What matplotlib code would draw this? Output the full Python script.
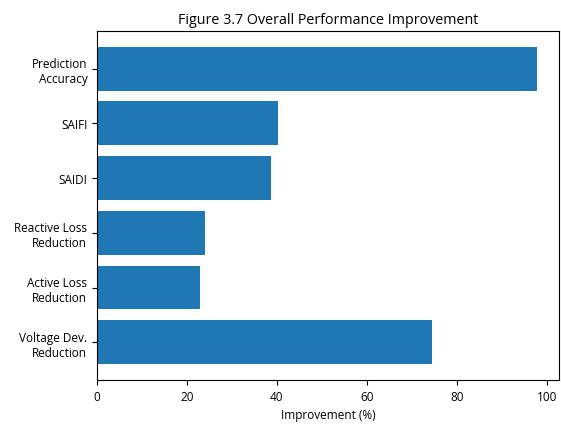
import matplotlib
matplotlib.use("Agg")
import matplotlib.pyplot as plt

plt.rcParams['font.family'] = ['Open Sans', 'DejaVu Sans']

categories = ["Voltage Dev.\nReduction", "Active Loss\nReduction", "Reactive Loss\nReduction",
              "SAIDI", "SAIFI", "Prediction\nAccuracy"]
improvement = [74.6, 23.0, 24.1, 38.7, 40.3, 97.8]
xticks = [0, 20, 40, 60, 80, 100]

fig = plt.figure(figsize=(5.61, 4.31), dpi=100)
ax = fig.add_axes([0.173, 0.116, 0.823, 0.81])
ax.barh(categories, improvement, color="#1f77b4", height=0.8)
ax.set_xticks(xticks)
ax.set_xlabel("Improvement (%)", fontsize=8.5)
ax.set_title("Figure 3.7 Overall Performance Improvement", fontsize=10.3)
ax.tick_params(labelsize=8.5)
fig.savefig("out.png", dpi=100)
